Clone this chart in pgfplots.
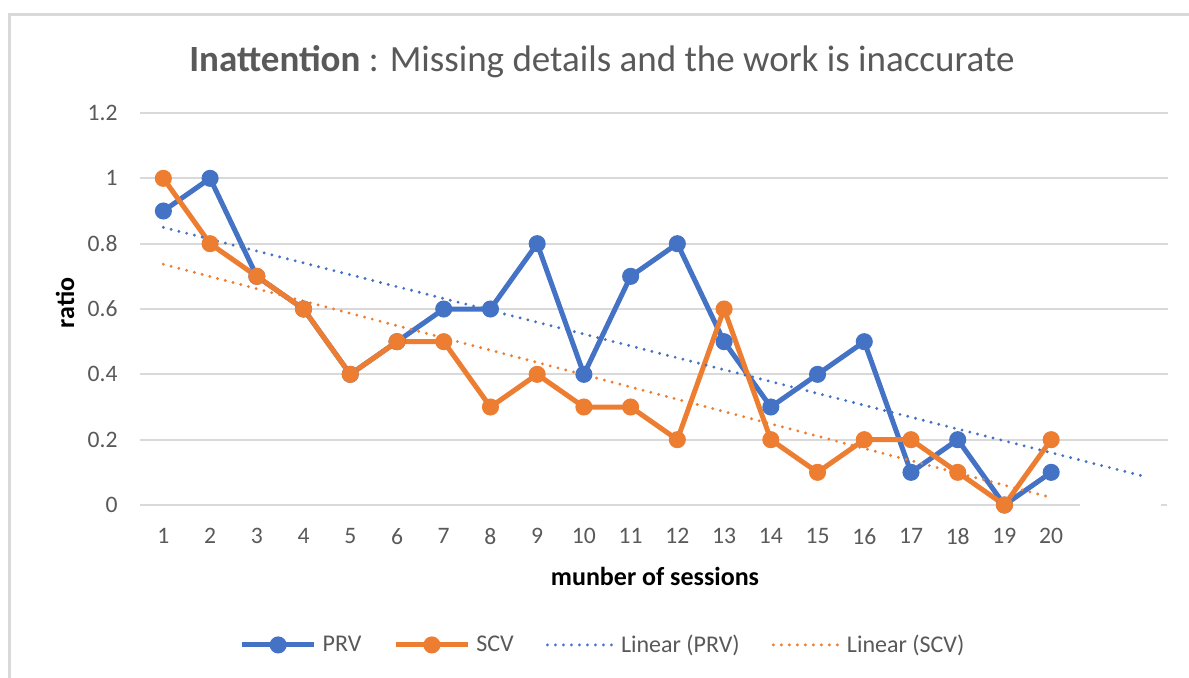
\documentclass[border=0pt]{standalone}
\usepackage{pgfplots}
\pgfplotsset{compat=1.18}
\usepackage{fontspec}
\setmainfont{Carlito}
\definecolor{prv}{HTML}{4472C4}
\definecolor{scv}{HTML}{ED7D31}
\definecolor{gridc}{HTML}{D9D9D9}
\definecolor{txt}{HTML}{595959}
\pgfplotsset{
  lineleg/.style={legend image code/.code={\draw[mark repeat=2,mark phase=2,##1] plot coordinates {(0pt,0pt)(18pt,0pt)(36pt,0pt)};}},
  dotleg/.style={legend image code/.code={\draw[##1] (0pt,0pt) -- (33pt,0pt);}}
}
\begin{document}
\begin{tikzpicture}
\useasboundingbox (-70pt,-86pt) rectangle (524.5pt,252.5pt);
\draw[gridc,line width=1.5pt] (-65.25pt,-90pt) -- (-65.25pt,245.5pt) -- (530pt,245.5pt);
\begin{axis}[
  at={(0pt,0pt)}, anchor=origin,
  scale only axis, width=514pt, height=196pt,
  xmin=0.5, xmax=22.5, ymin=0, ymax=1.2,
  clip=false,
  axis line style={draw=none},
  major tick length=0pt,
  xtick={1,...,20},
  ytick={0.2,0.4,0.6,0.8,1,1.2},
  extra y ticks={0}, extra y tick style={grid=none},
  ymajorgrids, grid style={gridc,line width=1pt},
  /pgf/number format/assume math mode=true,
  ticklabel style={font=\fontsize{11.8}{13}\selectfont, text=txt, inner sep=0pt},
  yticklabel style={anchor=east, xshift=-11pt},
  xticklabel style={anchor=north, yshift=-11.5pt},
  legend columns=4,
  legend style={at={(axis description cs:0.4514,-0.357)}, anchor=center, draw=none,
    font=\fontsize{12}{14}\selectfont, text=txt,
    /tikz/every even column/.append style={column sep=14pt},
    /tikz/every odd column/.append style={column sep=1pt}},
]
\draw[gridc,line width=1pt] (axis cs:0.5,0) -- (axis cs:20.62,0);
\draw[gridc,line width=1pt] (axis cs:22.35,0) -- (axis cs:22.47,0);
\addplot[prv, line width=2.5pt, mark=*, mark options={scale=1.5}, lineleg]
  coordinates {(1,0.9)(2,1)(3,0.7)(4,0.6)(5,0.4)(6,0.5)(7,0.6)(8,0.6)(9,0.8)(10,0.4)
  (11,0.7)(12,0.8)(13,0.5)(14,0.3)(15,0.4)(16,0.5)(17,0.1)(18,0.2)(19,0)(20,0.1)};
\addlegendentry{PRV}
\addplot[scv, line width=2.5pt, mark=*, mark options={scale=1.5}, lineleg]
  coordinates {(1,1)(2,0.8)(3,0.7)(4,0.6)(5,0.4)(6,0.5)(7,0.5)(8,0.3)(9,0.4)(10,0.3)
  (11,0.3)(12,0.2)(13,0.6)(14,0.2)(15,0.1)(16,0.2)(17,0.2)(18,0.1)(19,0)(20,0.2)};
\addlegendentry{SCV}
\addplot[prv, line width=1.6pt, line cap=round, dash pattern=on 0pt off 4pt, dotleg]
  coordinates {(1,0.8500)(22,0.0874)};
\addlegendentry{Linear (PRV)}
\addplot[scv, line width=1.6pt, line cap=round, dash pattern=on 0pt off 4pt, dotleg]
  coordinates {(1,0.7371)(20,0.0229)};
\addlegendentry{Linear (SCV)}
\end{axis}
\node[anchor=base, text=txt, font=\fontsize{18.5}{22}\selectfont] at (231pt,217pt)
  {\textbf{Inattention} : Missing details and the work is inaccurate};
\node[rotate=90, font=\bfseries\fontsize{13}{15}\selectfont] at (-37.5pt,101pt) {ratio};
\node[font=\bfseries\fontsize{13}{15}\selectfont] at (257.5pt,-35.5pt) {munber of sessions};
\end{tikzpicture}
\end{document}
